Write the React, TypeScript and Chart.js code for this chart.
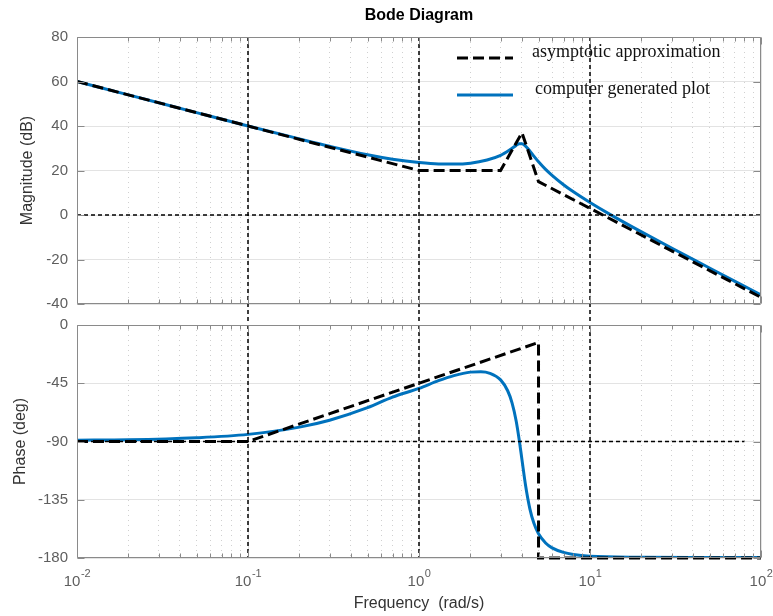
import React, { useEffect, useRef } from 'react';
import { Chart, registerables } from 'chart.js';

Chart.register(...registerables);

// ---------------- data ----------------
const FREQ_MIN = 0.01;
const FREQ_MAX = 100;

// computer generated (exact) Bode magnitude
const magFreq = [0.01, 0.02, 0.05, 0.1, 0.2, 0.3, 0.5, 0.7, 1.0, 1.3, 1.6, 2.0, 2.5, 3.0, 3.4, 3.7, 3.85, 4.0, 4.15, 4.3, 4.6, 5.0, 5.5, 6.0, 7.0, 8.0, 10, 13, 20, 30, 50, 70, 100];
const magDb = [60.0, 54.0, 46.0, 40.0, 34.2, 30.9, 27.1, 25.1, 23.6, 22.95, 22.9, 23.3, 24.7, 26.8, 29.3, 31.3, 32.0, 32.0, 31.3, 30.1, 27.3, 23.9, 20.5, 17.8, 13.6, 10.4, 5.6, 0.4, -7.6, -14.85, -23.8, -29.7, -35.9];

// computer generated (exact) Bode phase
const phaseFreq = [0.01, 0.02, 0.05, 0.1, 0.2, 0.3, 0.5, 0.7, 1.0, 1.3, 1.6, 2.0, 2.3, 2.6, 3.0, 3.3, 3.5, 3.7, 3.85, 4.0, 4.2, 4.45, 4.7, 5.0, 5.5, 6.0, 7.0, 8.0, 10, 20, 50, 100];
const phaseDeg = [-89.0, -88.7, -87.1, -84.5, -78.9, -73.6, -63.9, -55.7, -49.0, -43.0, -39.1, -36.4, -36.1, -37.3, -42.4, -50.8, -60.1, -74.1, -88.2, -104.0, -124.0, -142.0, -153.2, -161.3, -168.4, -172.2, -175.7, -177.3, -178.6, -179.4, -179.6, -179.7];

// asymptotic approximation
const asymMagFreq = [0.01, 0.1, 1, 3, 4, 5, 10, 100];
const asymMagDb = [60, 40, 20, 20, 37, 15, 3, -37];
const asymPhaseFreq = [0.01, 0.1, 5, 5, 100];
const asymPhaseDeg = [-90, -90, -13.5, -180, -180];

// thin dashed guide lines
const guideFreqs = [0.1, 1, 10];
const magGuideSpan = [80, -50]; // runs on through the gap between the two panels
const phaseGuideSpan = [0, -180];
const magGuideLevel = 0;
const phaseGuideLevel = -90;
const phaseGuideEnd = 80;

// ticks
const magTicks = [-40, -20, 0, 20, 40, 60, 80];
const phaseTicks = [-180, -135, -90, -45, 0];
const decadeTicks = [0.01, 0.1, 1, 10, 100];
const decadeBase = '10';
const decadeExponents = ['-2', '-1', '0', '1', '2'];
const minorMultipliers = [1, 2, 3, 4, 5, 6, 7, 8, 9];

const legendLabels = ['asymptotic approximation', 'computer generated plot'];
const titleText = 'Bode Diagram';

// ---------------- style ----------------
const BLUE = '#0072BD';
const AXIS_COLOR = '#8a8a8a';
const TICK_TEXT = '#5e5e5e';
const TITLE_TEXT = '#333333';
const GRID_MAJOR = '#e3e3e3';
const GRID_MINOR = '#d0d0d0';
const SANS = "'Liberation Sans', Arial, Helvetica, sans-serif";
const SERIF = "'Liberation Serif', 'Times New Roman', serif";

const xTickValues: number[] = [];
decadeTicks.forEach((d, i) => {
  if (i === decadeTicks.length - 1) xTickValues.push(d);
  else minorMultipliers.forEach((m) => xTickValues.push(+(m * d).toPrecision(6)));
});

const isDecade = (v: any) => {
  if (typeof v !== 'number' || v <= 0) return false;
  const l = Math.log10(v);
  return Math.abs(l - Math.round(l)) < 1e-6;
};

const pts = (xs: number[], ys: number[]) => xs.map((x, i) => ({ x, y: ys[i] }));

// ---------------- plugins ----------------
const framePlugin = {
  id: 'matlabFrame',
  afterDraw(chart: any) {
    const { ctx, chartArea: a, scales } = chart;
    ctx.save();
    ctx.strokeStyle = AXIS_COLOR;
    ctx.lineWidth = 1;
    const L = Math.round(a.left) + 0.5;
    const R = Math.round(a.right) - 0.5;
    const T = Math.round(a.top) + 0.5;
    const B = Math.round(a.bottom) - 0.5;
    ctx.beginPath();
    ctx.rect(L, T, R - L, B - T);
    const line = (x1: number, y1: number, x2: number, y2: number) => {
      ctx.moveTo(x1, y1);
      ctx.lineTo(x2, y2);
    };
    scales.x.ticks.forEach((t: any) => {
      const px = Math.round(scales.x.getPixelForValue(t.value)) + 0.5;
      const len = isDecade(t.value) ? 7 : 4;
      line(px, B, px, B - len);
      line(px, T, px, T + len);
    });
    scales.y.ticks.forEach((t: any) => {
      const py = Math.round(scales.y.getPixelForValue(t.value)) + 0.5;
      line(L, py, L + 7, py);
      line(R, py, R - 7, py);
    });
    ctx.stroke();
    ctx.restore();
  },
};

// decade labels written as 10 with a raised exponent, at the x scale's decade ticks
const decadeLabelPlugin = {
  id: 'decadeLabels',
  afterDraw(chart: any) {
    const { ctx, chartArea: a, scales } = chart;
    ctx.save();
    ctx.fillStyle = TICK_TEXT;
    ctx.textBaseline = 'alphabetic';
    ctx.textAlign = 'left';
    decadeTicks.forEach((d, i) => {
      const px = scales.x.getPixelForValue(d);
      ctx.font = `15px ${SANS}`;
      const wb = ctx.measureText(decadeBase).width;
      ctx.font = `11px ${SANS}`;
      const we = ctx.measureText(decadeExponents[i]).width;
      const x0 = px - (wb + we) / 2;
      ctx.font = `15px ${SANS}`;
      ctx.fillText(decadeBase, x0, a.bottom + 28);
      ctx.font = `11px ${SANS}`;
      ctx.fillText(decadeExponents[i], x0 + wb + 0.5, a.bottom + 19);
    });
    ctx.restore();
  },
};

const titlePlugin = {
  id: 'bodeTitle',
  afterDraw(chart: any) {
    const { ctx, chartArea: a } = chart;
    ctx.save();
    ctx.font = `bold 16px ${SANS}`;
    ctx.fillStyle = '#000';
    ctx.textAlign = 'center';
    ctx.textBaseline = 'middle';
    ctx.fillText(titleText, (a.left + a.right) / 2, a.top - 21);
    ctx.restore();
  },
};

const legendPlugin = {
  id: 'bodeLegend',
  afterDraw(chart: any) {
    const { ctx, chartArea: a } = chart;
    const ds = chart.data.datasets;
    const asym = ds.find((d: any) => d.label === legendLabels[0]);
    const exact = ds.find((d: any) => d.label === legendLabels[1]);
    const x1 = a.right - 304;
    const x2 = a.right - 248;
    const rows = [
      { d: asym, yLine: a.top + 21, yText: a.top + 15, xText: a.right - 229, text: legendLabels[0] },
      { d: exact, yLine: a.top + 58, yText: a.top + 52, xText: a.right - 226, text: legendLabels[1] },
    ];
    ctx.save();
    rows.forEach((r) => {
      ctx.beginPath();
      ctx.strokeStyle = r.d.borderColor;
      ctx.lineWidth = r.d.borderWidth;
      ctx.setLineDash(r.d.borderDash || []);
      ctx.moveTo(x1, r.yLine);
      ctx.lineTo(x2, r.yLine);
      ctx.stroke();
      ctx.setLineDash([]);
      ctx.font = `18px ${SERIF}`;
      ctx.fillStyle = '#111';
      ctx.textAlign = 'left';
      ctx.textBaseline = 'middle';
      ctx.fillText(r.text, r.xText, r.yText);
    });
    ctx.restore();
  },
};

// ---------------- scales ----------------
const makeX = (showLabels: boolean) => ({
  type: 'logarithmic',
  min: FREQ_MIN,
  max: FREQ_MAX,
  position: 'bottom',
  afterBuildTicks: (s: any) => {
    s.ticks = xTickValues.map((v) => ({ value: v, major: false }));
  },
  afterFit: (s: any) => {
    s.paddingLeft = 0;
    s.paddingRight = 0;
    s.height = showLabels ? 58 : 0;
  },
  ticks: {
    display: false,
    autoSkip: false,
    maxRotation: 0,
    minRotation: 0,
  },
  grid: {
    drawTicks: false,
    lineWidth: 1,
    color: (c: any) => (c.tick && isDecade(c.tick.value) ? GRID_MAJOR : GRID_MINOR),
  },
  border: {
    display: false,
    dash: (c: any) => (c.tick && !isDecade(c.tick.value) ? [1, 4] : []),
  },
  title: showLabels
    ? {
        display: true,
        text: 'Frequency  (rad/s)',
        color: TITLE_TEXT,
        font: { family: SANS, size: 16 },
        padding: { top: 0, bottom: 3 },
      }
    : { display: false },
});

const makeY = (min: number, max: number, ticks: number[], title: string, titlePad: number) => ({
  type: 'linear',
  min,
  max,
  afterBuildTicks: (s: any) => {
    s.ticks = ticks.map((v) => ({ value: v }));
  },
  afterFit: (s: any) => {
    s.width = 77;
    s.paddingTop = 0;
    s.paddingBottom = 0;
  },
  ticks: {
    autoSkip: false,
    padding: 9,
    color: TICK_TEXT,
    font: { family: SANS, size: 15 },
  },
  grid: { drawTicks: false, color: GRID_MAJOR, lineWidth: 1 },
  border: { display: false },
  title: {
    display: true,
    text: title,
    color: TITLE_TEXT,
    font: { family: SANS, size: 16 },
    padding: { top: titlePad, bottom: 0 },
  },
});

const guideStyle = {
  borderColor: '#000',
  borderWidth: 1.5,
  borderDash: [4, 3],
  pointRadius: 0,
  tension: 0,
  order: 0,
};

const commonOptions = {
  responsive: false,
  animation: false as const,
  events: [] as any[],
  plugins: {
    legend: { display: false },
    title: { display: false },
    tooltip: { enabled: false },
  },
  elements: { point: { radius: 0, hoverRadius: 0 } },
};

function topConfig(): any {
  return {
    type: 'line',
    data: {
      datasets: [
        {
          label: legendLabels[1],
          data: pts(magFreq, magDb),
          borderColor: BLUE,
          borderWidth: 3,
          pointRadius: 0,
          cubicInterpolationMode: 'monotone',
          order: 2,
        },
        {
          label: legendLabels[0],
          data: pts(asymMagFreq, asymMagDb),
          borderColor: '#000',
          borderWidth: 3,
          borderDash: [11, 5],
          pointRadius: 0,
          tension: 0,
          order: 1,
        },
        ...guideFreqs.map((f) => ({
          label: 'guide',
          data: magGuideSpan.map((y) => ({ x: f, y })),
          clip: { left: 0, top: 0, right: 0, bottom: false },
          ...guideStyle,
        })),
        {
          label: 'guide',
          data: [
            { x: FREQ_MIN, y: magGuideLevel },
            { x: FREQ_MAX, y: magGuideLevel },
          ],
          ...guideStyle,
        },
      ],
    },
    options: {
      ...commonOptions,
      layout: { padding: { top: 37, right: 12, bottom: 20, left: 0 } },
      scales: {
        x: makeX(false),
        y: makeY(-40, 80, magTicks, 'Magnitude (dB)', 18),
      },
    },
    plugins: [framePlugin, titlePlugin, legendPlugin],
  };
}

function bottomConfig(): any {
  return {
    type: 'line',
    data: {
      datasets: [
        {
          label: 'phase',
          data: pts(phaseFreq, phaseDeg),
          borderColor: BLUE,
          borderWidth: 3,
          pointRadius: 0,
          cubicInterpolationMode: 'monotone',
          order: 2,
        },
        {
          label: 'phase asymptote',
          data: pts(asymPhaseFreq, asymPhaseDeg),
          borderColor: '#000',
          borderWidth: 3,
          borderDash: [11, 5],
          pointRadius: 0,
          tension: 0,
          order: 1,
          clip: { left: 0, top: 0, right: 0, bottom: 3 },
        },
        ...guideFreqs.map((f) => ({
          label: 'guide',
          data: phaseGuideSpan.map((y) => ({ x: f, y })),
          ...guideStyle,
        })),
        {
          label: 'guide',
          data: [
            { x: FREQ_MIN, y: phaseGuideLevel },
            { x: phaseGuideEnd, y: phaseGuideLevel },
          ],
          ...guideStyle,
        },
      ],
    },
    options: {
      ...commonOptions,
      layout: { padding: { top: 25, right: 12, bottom: 0, left: 0 } },
      scales: {
        x: makeX(true),
        y: makeY(-180, 0, phaseTicks, 'Phase (deg)', 11),
      },
    },
    plugins: [framePlugin, decadeLabelPlugin],
  };
}

export default function App() {
  const topRef = useRef<HTMLCanvasElement>(null);
  const botRef = useRef<HTMLCanvasElement>(null);

  useEffect(() => {
    if (!topRef.current || !botRef.current) return;
    const bottom = new Chart(botRef.current, bottomConfig());
    const top = new Chart(topRef.current, topConfig());
    return () => {
      top.destroy();
      bottom.destroy();
    };
  }, []);

  return (
    <div style={{ position: 'absolute', left: 0, top: 0, width: 773, height: 616, background: '#fff', overflow: 'hidden' }}>
      <canvas
        ref={botRef}
        width={773}
        height={316}
        style={{ position: 'absolute', left: 0, top: 300, width: 773, height: 316, display: 'block' }}
      />
      <canvas
        ref={topRef}
        width={773}
        height={324}
        style={{ position: 'absolute', left: 0, top: 0, width: 773, height: 324, display: 'block' }}
      />
    </div>
  );
}
